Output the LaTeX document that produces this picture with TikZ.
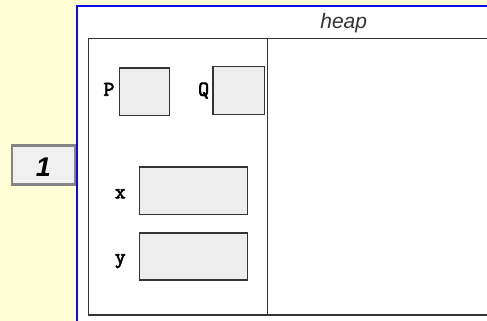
\documentclass[tikz,border=0pt]{standalone}
\usepackage{fontspec}
\setmainfont{Liberation Sans}
\newfontfamily\monob{Latin Modern Mono}[FakeBold=3]
\definecolor{bgyellow}{HTML}{FFFFD6}
\definecolor{frameblue}{HTML}{0A0AE6}
\definecolor{cellfill}{HTML}{EDEDED}
\definecolor{darkline}{HTML}{333333}
\definecolor{stepgray}{HTML}{858585}
\definecolor{stepfill}{HTML}{F0F0F0}
\tikzset{
  cell/.style={draw=darkline, line width=1.3pt, fill=cellfill, inner sep=0pt, anchor=north west},
  varlabel/.style={font=\monob\fontsize{21}{21}\selectfont, inner sep=0pt, anchor=base, text=black},
}
\begin{document}
\begin{tikzpicture}[x=1pt,y=-1pt]
\useasboundingbox (0,0) rectangle (487,321);
\clip (0,0) rectangle (487,321);
\fill[bgyellow] (0,0) rectangle (487,321);
% outer blue frame
\draw[frameblue, line width=2.4pt, fill=white] (76.7,6) rectangle (520,340);
% inner frame
\draw[darkline, line width=1.4pt] (88.3,38.3) rectangle (520,315);
\draw[darkline, line width=1.4pt] (267.7,39) -- (267.7,315);
% heap title
\node[font=\itshape\fontsize{21}{21}\selectfont, text=darkline, anchor=base, inner sep=0pt] (heap) at (343.7,28.3) {heap};
% step box
\node[draw=stepgray, line width=2.2pt, fill=stepfill, minimum width=63pt, minimum height=39pt, inner sep=0pt] (stepbox) at (43.7,165) {};
\node[font=\bfseries\itshape\fontsize{27}{27}\selectfont, anchor=base, inner sep=0pt] (stepnum) at (43.3,176) {1};
% variable cells
\node[cell, minimum width=50.3pt, minimum height=47.7pt] (P) at (118.7,67.3) {};
\node[cell, minimum width=51.4pt, minimum height=47.7pt] (Q) at (212.3,66) {};
\node[cell, minimum width=108pt, minimum height=47.7pt] (X) at (138.7,166.3) {};
\node[cell, minimum width=108pt, minimum height=47pt] (Y) at (138.7,232.3) {};
% labels
\node[varlabel] (Plab) at (109,95.7) {P};
\node[varlabel] (Qlab) at (203.7,95.7) {Q};
\node[varlabel] (Xlab) at (120.3,198.3) {x};
\node[varlabel] (Ylab) at (120.3,263.3) {y};
\end{tikzpicture}
\end{document}
